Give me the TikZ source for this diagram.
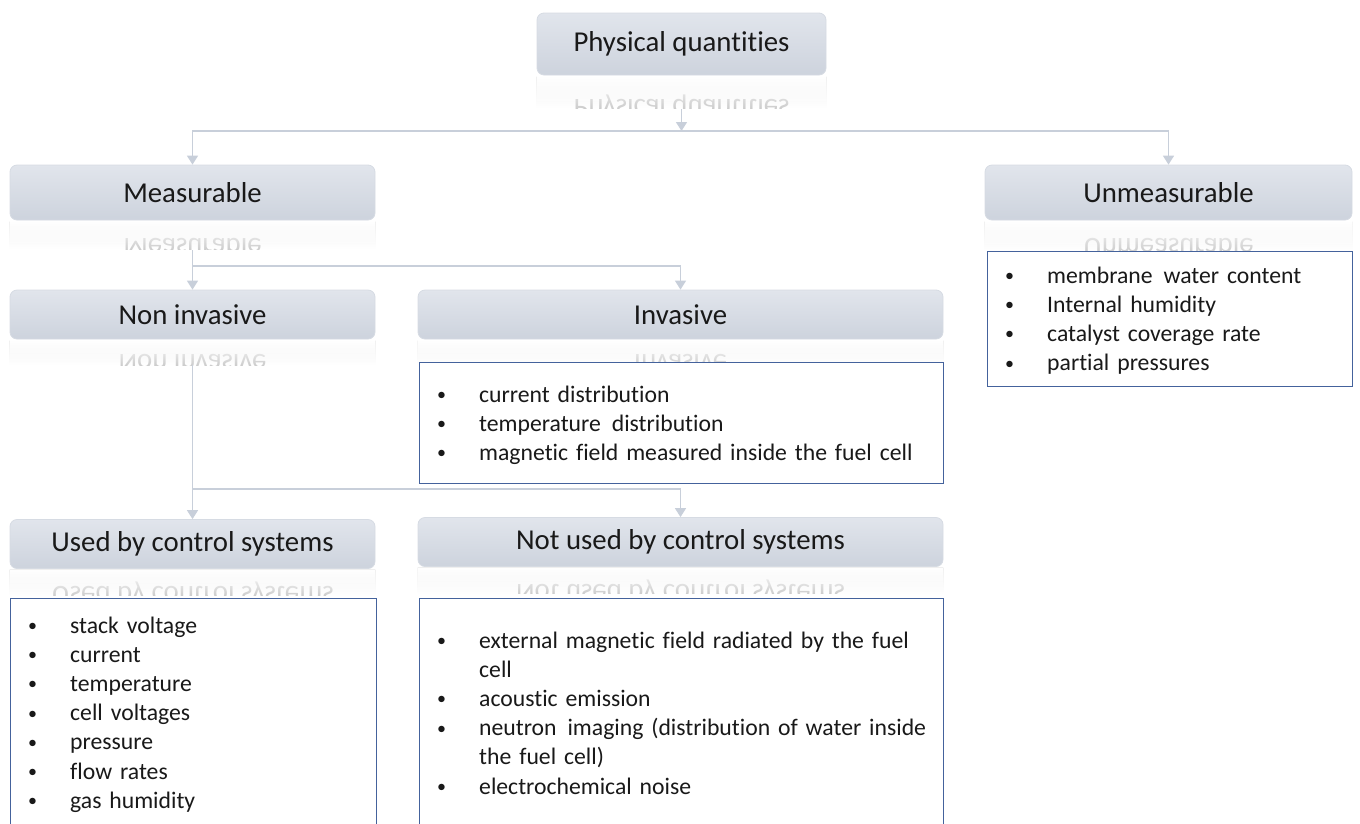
\documentclass[tikz,border=0pt]{standalone}
\usepackage{fontspec}
\setmainfont{Carlito}[Ligatures=NoCommon]
\usepackage{tikz}
\usetikzlibrary{arrows.meta, positioning, calc, fadings}

\definecolor{boxtop}{RGB}{225,229,236}
\definecolor{boxbot}{RGB}{205,211,221}
\definecolor{boxedge}{RGB}{214,219,227}
\definecolor{listblue}{RGB}{68,98,156}
\definecolor{connc}{RGB}{200,207,218}
\definecolor{mirrorc}{RGB}{205,205,205}

% one bullet line of a list box
\newcommand{\litem}[1]{\par\noindent\hangindent=43pt\hangafter=1\strut\makebox[43pt][l]{\hspace{1pt}\raisebox{1.5pt}{\fontsize{18}{18}\selectfont\textbullet}}#1}
% faded mirror image under a title box
\newcommand{\reflectlabel}[3]{%
  \begin{scope}
    \clip (#1.south west) rectangle ($(#1.south east)+(0,#2)$);
    \shade[top color=black!6, bottom color=white] ($(#1.south west)+(0,1)$) rectangle ($(#1.south east)+(0,#2)$);
    \node (#1_mirror) [titlefont, text=mirrorc, yscale=-1, transform shape] at ($2*(#1.south)-(#1)$) {#3};
    \fill[white, path fading=south] ($(#1.south west)+(0,1)$) rectangle ($(#1.south east)+(0,#2)$);
  \end{scope}}

\begin{document}
\begin{tikzpicture}[x=1pt, y=-1pt, >={Triangle[width=11pt,length=9pt]},
    titlefont/.style={font=\fontsize{28.8}{34}\selectfont},
    title/.style={titlefont, rectangle, rounded corners=7pt, top color=boxtop, bottom color=boxbot, draw=boxedge, line width=0.8pt, text=black!90, inner sep=0pt},
    listbox/.style={rectangle, draw=listblue, line width=1.2pt, fill=white, inner sep=0pt, anchor=north west},
    listtext/.style={anchor=north west, inner sep=0pt, align=left, font=\fontsize{23.7}{29.2}\selectfont\raggedright, text=black!90},
    conn/.style={draw=connc, line width=1.6pt},
    point/.style={coordinate}]

    \useasboundingbox (0,0) rectangle (1360,823);

    \node (phys) [title, minimum width=289pt, minimum height=62pt] at (681.5,44) {Physical quantities};
    \node (meas) [title, minimum width=365pt, minimum height=55pt] at (192.5,192.5) {Measurable};
    \node (unmeas) [title, minimum width=367pt, minimum height=55pt] at (1168.5,192.5) {Unmeasurable};
    \node (non_inv) [title, minimum width=365pt, minimum height=49pt] at (192.5,314.5) {Non invasive};
    \node (inv) [title, minimum width=525pt, minimum height=49pt] at (680.5,314.5) {Invasive};
    \node (used) [title, minimum width=365pt, minimum height=49pt] at (192.5,544) {Used by control systems};
    \node (not_used) [title, minimum width=525pt, minimum height=49pt] at (680.5,542) {Not used by control systems};

    \reflectlabel{phys}{33}{Physical quantities}
    \reflectlabel{meas}{29}{Measurable}
    \reflectlabel{unmeas}{31}{Unmeasurable}
    \reflectlabel{non_inv}{26}{Non invasive}
    \reflectlabel{inv}{26}{Invasive}
    \reflectlabel{used}{27}{Used by control systems}
    \reflectlabel{not_used}{27}{Not used by control systems}

    \node (unmeas_list) [listbox, minimum width=365pt, minimum height=135pt] at (987,251) {};
    \node (inv_list) [listbox, minimum width=524pt, minimum height=121pt] at (419,362) {};
    \node (used_list) [listbox, minimum width=366pt, minimum height=250pt] at (10,598) {};
    \node (not_used_list) [listbox, minimum width=524pt, minimum height=250pt] at (419,598) {};

    \node (unmeas_txt) [listtext, text width=330pt] at ($(unmeas_list.north west)+(17,2.6)$) {%
        \litem{membrane\hspace{3pt} water content}
        \litem{Internal humidity}
        \litem{catalyst coverage rate}
        \litem{partial pressures}};
    \node (inv_txt) [listtext, text width=500pt] at ($(inv_list.north west)+(17,10.6)$) {%
        \litem{current distribution}
        \litem{temperature\hspace{3pt} distribution}
        \litem{magnetic field measured inside the fuel cell}};
    \node (used_txt) [listtext, text width=330pt] at ($(used_list.north west)+(17,5.6)$) {%
        \litem{stack voltage}
        \litem{current}
        \litem{temperature}
        \litem{cell voltages}
        \litem{pressure}
        \litem{flow rates}
        \litem{gas humidity}};
    \node (not_used_txt) [listtext, text width=505pt] at ($(not_used_list.north west)+(17,20.6)$) {%
        \litem{external magnetic field radiated by the fuel\newline cell}
        \litem{acoustic emission}
        \litem{neutron\hspace{3pt} imaging (distribution of water inside\newline the fuel cell)}
        \litem{electrochemical noise}};

    \coordinate (phys_r) at ($(phys.south)+(0,34)$);
    \coordinate (j1) at (681.5,131);
    \coordinate (meas_r) at ($(meas.south)+(0,30)$);
    \coordinate (j2) at (680.5,266);
    \coordinate (non_inv_r) at ($(non_inv.south)+(0,26)$);
    \coordinate (j3) at (680.5,489);

    \draw [conn, ->] (phys_r) -- (j1);
    \draw [conn, ->] (j1) -| (meas);
    \draw [conn, ->] (j1) -| (unmeas);
    \draw [conn, ->] (meas_r) -- (non_inv);
    \draw [conn, ->] (meas_r |- j2) -- (j2) -- (inv);
    \draw [conn, ->] (non_inv_r) -- (used);
    \draw [conn, ->] (non_inv_r |- j3) -- (j3) -- (not_used);

\end{tikzpicture}
\end{document}
